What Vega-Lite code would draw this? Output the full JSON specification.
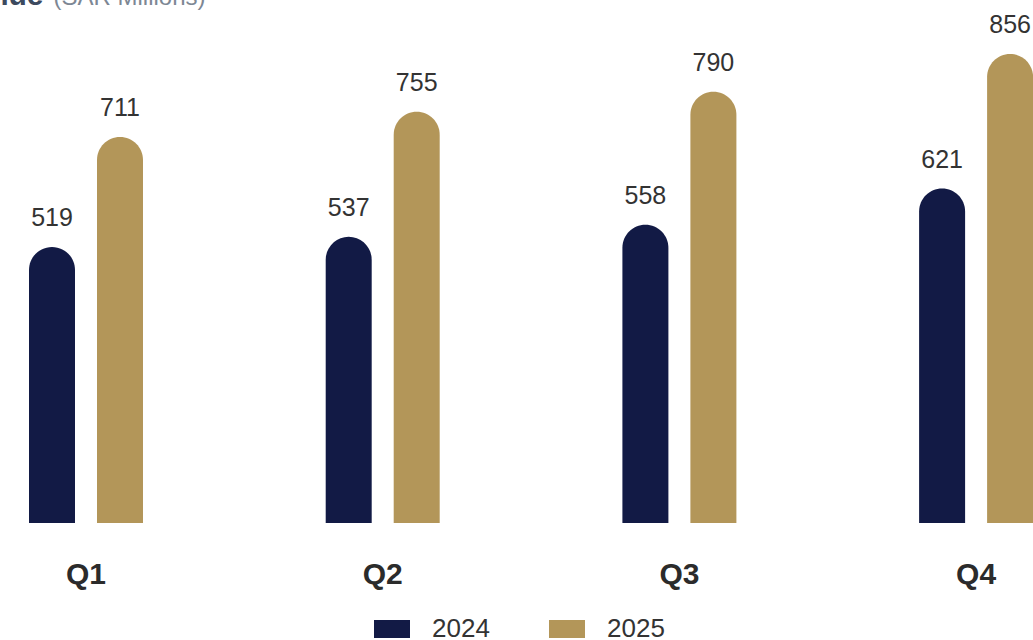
{
  "$schema": "https://vega.github.io/schema/vega-lite/v6.json",
  "width": 1033,
  "height": 523,
  "autosize": {"type": "none"},
  "padding": {"left": 0, "top": 0, "right": 0, "bottom": 117},
  "background": "white",
  "data": {"values": [
    {"quarter": "Q1", "year": "2024", "value": 519},
    {"quarter": "Q1", "year": "2025", "value": 711},
    {"quarter": "Q2", "year": "2024", "value": 537},
    {"quarter": "Q2", "year": "2025", "value": 755},
    {"quarter": "Q3", "year": "2024", "value": 558},
    {"quarter": "Q3", "year": "2025", "value": 790},
    {"quarter": "Q4", "year": "2024", "value": 621},
    {"quarter": "Q4", "year": "2025", "value": 856}
  ]},
  "encoding": {
    "x": {"field": "quarter", "type": "nominal", "title": null,
      "scale": {"paddingInner": 0.6158, "paddingOuter": 0.3079, "range": [-62.35, 1124.45]},
      "axis": {"labelAngle": 0, "labelFontSize": 30, "labelFontWeight": "bold", "labelColor": "#2b2b2b", "labelPadding": 36, "ticks": false, "tickSize": 0, "domain": false, "grid": false, "labelFont": "Liberation Sans"}},
    "xOffset": {"field": "year", "type": "nominal", "scale": {"paddingInner": 0.3235, "paddingOuter": 0}}
  },
  "layer": [
    {"mark": {"type": "bar", "cornerRadiusTopLeft": 23, "cornerRadiusTopRight": 23},
     "encoding": {
       "y": {"field": "value", "type": "quantitative", "title": "(SAR Millions)",
         "scale": {"domain": [37.5, 950], "zero": false, "nice": false},
         "axis": {"labels": false, "ticks": false, "domain": false, "grid": false, "titleAngle": 0, "titleX": 53, "titleY": 4, "titleAlign": "left", "titleBaseline": "alphabetic", "titleFontSize": 24, "titleFontWeight": "normal", "titleColor": "#7d8794", "titleFont": "Liberation Sans"}},
       "y2": {"datum": 37.5},
       "color": {"field": "year", "type": "nominal",
       "scale": {"domain": ["2024", "2025"], "range": ["#121a45", "#b39659"]},
       "legend": {"title": null, "orient": "none", "legendX": 374, "legendY": 611, "direction": "horizontal", "symbolType": "M-1,-0.5H1V0.5H-1Z", "symbolSize": 1296, "symbolStrokeWidth": 0, "symbolOpacity": 1, "labelFontSize": 26, "labelColor": "#333333", "labelOffset": 22, "columnPadding": 59, "labelFont": "Liberation Sans"}}}},
    {"mark": {"type": "text", "dy": -21, "baseline": "alphabetic", "fontSize": 25, "color": "#333333", "font": "Liberation Sans"},
     "encoding": {
       "y": {"field": "value", "type": "quantitative", "title": "Revenue",
         "scale": {"domain": [37.5, 950], "zero": false, "nice": false},
         "axis": {"labels": false, "ticks": false, "domain": false, "grid": false, "orient": "left", "titleAngle": 0, "titleX": 43, "titleY": 4, "titleAlign": "right", "titleBaseline": "alphabetic", "titleFontSize": 30, "titleFontWeight": "bold", "titleColor": "#3c4a5e", "titleFont": "Liberation Sans"}},
       "text": {"field": "value", "type": "quantitative"}}}
  ],
  "resolve": {"axis": {"y": "independent"}},
  "config": {"view": {"stroke": null}}
}
